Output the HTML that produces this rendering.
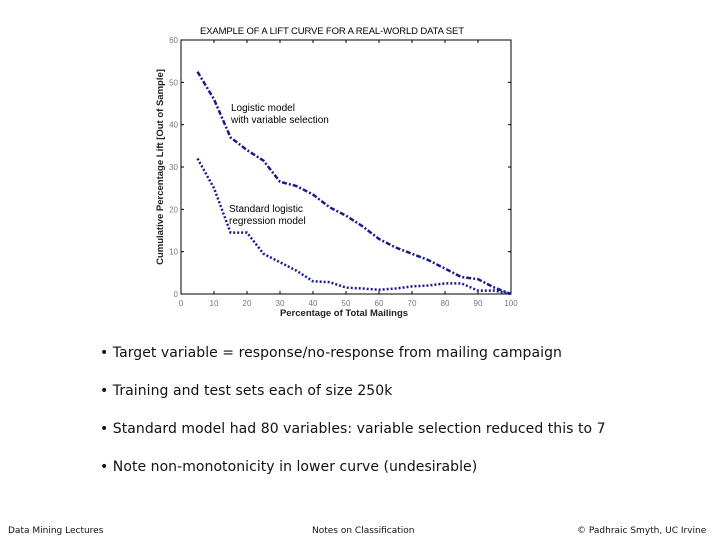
<!DOCTYPE html>
<html><head><meta charset="utf-8"><style>
body{margin:0;width:720px;height:540px;background:#fff;position:relative;overflow:hidden;font-family:"DejaVu Sans","Liberation Sans",sans-serif;}
.b{position:absolute;left:100px;font-size:14px;color:#111;white-space:nowrap;letter-spacing:0.05px;}
.f{position:absolute;top:526px;font-size:9px;color:#111;white-space:nowrap;}
</style></head><body>
<svg width="720" height="330" style="position:absolute;left:0;top:0" font-family="Liberation Sans, sans-serif">
<g id="chart"></g>
</svg>
<div class="b" style="top:345px">• Target variable = response/no-response from mailing campaign</div>
<div class="b" style="top:383px">• Training and test sets each of size 250k</div>
<div class="b" style="top:421px">• Standard model had 80 variables: variable selection reduced this to 7</div>
<div class="b" style="top:459px">• Note non-monotonicity in lower curve (undesirable)</div>
<div class="f" style="left:8px">Data Mining Lectures</div>
<div class="f" style="left:312px">Notes on Classification</div>
<div class="f" style="left:577px">© Padhraic Smyth, UC Irvine</div>
<script>
const xVals=[5,10,15,20,25,30,35,40,45,50,55,60,65,70,75,80,85,90,95,100];
const upper=[52.5,46,37,34,31.5,26.5,25.5,23.5,20.5,18.5,16,13,11,9.5,8,6,4,3.5,1.5,0];
const lower=[32,25,14.5,14.5,9.5,7.5,5.5,3,2.8,1.5,1.3,1,1.3,1.8,2,2.5,2.5,0.8,0.8,0];
const xTicks=[0,10,20,30,40,50,60,70,80,90,100];
const yTicks=[0,10,20,30,40,50,60];
const L=181,R=511,T=40,B=294;
const sx=v=>L+(R-L)*v/100, sy=v=>B-(B-T)*v/60;
const g=document.getElementById('chart');
const NS='http://www.w3.org/2000/svg';
function mk(t,a,txt){const e=document.createElementNS(NS,t);for(const k in a)e.setAttribute(k,a[k]);if(txt!==undefined)e.textContent=txt;g.appendChild(e);return e;}
let e=mk('rect',{x:L,y:T,width:R-L,height:B-T,fill:'none',stroke:'#000','stroke-width':1});


xTicks.forEach(v=>{mk('line',{x1:sx(v),x2:sx(v),y1:B,y2:B-3,stroke:'#000'});mk('line',{x1:sx(v),x2:sx(v),y1:T,y2:T+3,stroke:'#000'});
e=mk('text',{x:sx(v),y:B+12,'font-size':8,'text-anchor':'middle',fill:'#777'},v);

});
yTicks.forEach(v=>{mk('line',{x1:L,x2:L+3,y1:sy(v),y2:sy(v),stroke:'#000'});mk('line',{x1:R,x2:R-3,y1:sy(v),y2:sy(v),stroke:'#000'});
e=mk('text',{x:L-3,y:sy(v)+3,'font-size':8,'text-anchor':'end',fill:'#777'},v);

});
function line(arr,dash,name){const d=arr.map((v,i)=>(i?'L':'M')+sx(xVals[i])+' '+sy(v)).join(' ');
const p=mk('path',{d:d,fill:'none',stroke:'#1a1a8c','stroke-width':2.5,'stroke-dasharray':dash});

}
line(upper,'5 2 2 2','upper-curve');
line(lower,'2 2','lower-curve');
e=mk('text',{x:332,y:34,'font-size':9.5,'text-anchor':'middle',fill:'#000','textLength':264},'EXAMPLE OF A LIFT CURVE FOR A REAL-WORLD DATA SET');


e=mk('text',{x:344,y:316,'font-size':9.5,'font-weight':'bold','text-anchor':'middle',fill:'#222'},'Percentage of Total Mailings');


e=mk('text',{x:0,y:0,'font-size':9.5,'font-weight':'bold','text-anchor':'middle',fill:'#222',transform:'translate(163,167) rotate(-90)'},'Cumulative Percentage Lift [Out of Sample]');


[['Logistic model',231,111],['with variable selection',231,123],['Standard logistic',229,212],['regression model',229,224]].forEach(a=>{
e=mk('text',{x:a[1],y:a[2],'font-size':10,fill:'#000'},a[0]);

});
</script>
</body></html>
